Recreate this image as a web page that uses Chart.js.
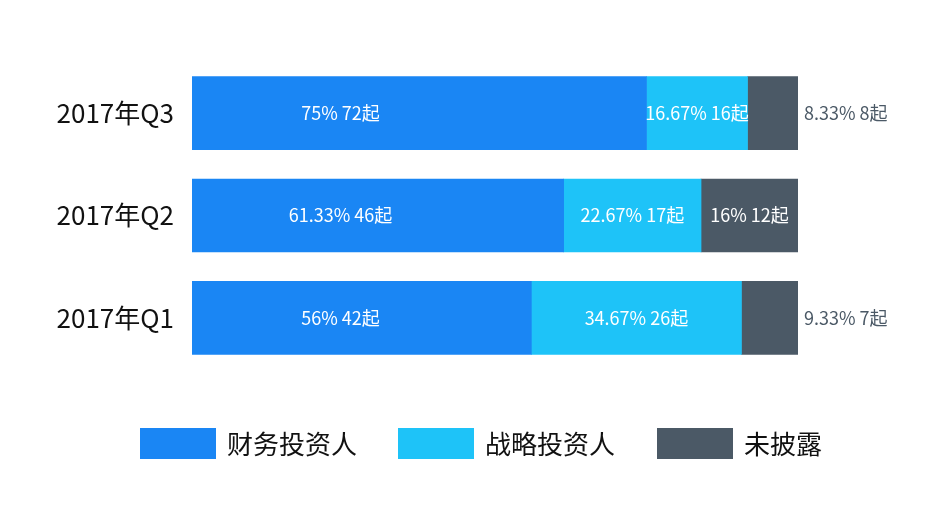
<!DOCTYPE html>
<html>
<head>
<meta charset="utf-8">
<script src="https://cdn.jsdelivr.net/npm/chart.js@4"></script>
<style>
html, body { margin: 0; padding: 0; background: #fff; }
#wrap { width: 936px; height: 517px; }
</style>
</head>
<body>
<div id="wrap"><canvas id="chart"></canvas></div>
<script>
const QUARTERS = ['2017年Q3', '2017年Q2', '2017年Q1'];
const SERIES = ['财务投资人', '战略投资人', '未披露'];
const PERCENTS = [
    [75, 61.33, 56],
    [16.67, 22.67, 34.67],
    [8.33, 16, 9.33]
];
const PERCENT_TEXT = [
    ['75%', '61.33%', '56%'],
    ['16.67%', '22.67%', '34.67%'],
    ['8.33%', '16%', '9.33%']
];
const COUNTS = [
    [72, 46, 42],
    [16, 17, 26],
    [8, 12, 7]
];
const COLORS = ['#1a86f4', '#1ec3f8', '#4b5966'];

const FONT = '"Noto Sans CJK SC", "Noto Sans", sans-serif';

// draws "xx% n起" on each segment
const segmentLabels = {
    id: 'segmentLabels',
    afterDatasetsDraw(chart) {
        const ctx = chart.ctx;
        const area = chart.chartArea;
        ctx.save();
        ctx.font = '18px ' + FONT;
        ctx.textBaseline = 'middle';
        chart.data.datasets.forEach((ds, di) => {
            chart.getDatasetMeta(di).data.forEach((bar, i) => {
                const text = PERCENT_TEXT[di][i] + ' ' + COUNTS[di][i] + '起';
                const w = bar.x - bar.base;
                let x, color = '#fff';
                ctx.textAlign = 'center';
                if (di === 0) {
                    x = area.left + (area.right - area.left) * 0.245;
                } else if (w < 80) {
                    x = area.right + 6;
                    ctx.textAlign = 'left';
                    color = '#4b5966';
                } else {
                    x = bar.base + w / 2;
                }
                ctx.fillStyle = color;
                ctx.fillText(text, x, bar.y);
            });
        });
        ctx.restore();
    }
};

// legend row under the bars
const bottomLegend = {
    id: 'bottomLegend',
    afterDraw(chart) {
        const ctx = chart.ctx;
        const starts = [140, 398, 657];
        ctx.save();
        ctx.font = '26px ' + FONT;
        ctx.textBaseline = 'middle';
        ctx.textAlign = 'left';
        SERIES.forEach((name, i) => {
            ctx.fillStyle = COLORS[i];
            ctx.fillRect(starts[i], 428, 76, 31);
            ctx.fillStyle = '#111';
            ctx.fillText(name, starts[i] + 87, 444);
        });
        ctx.restore();
    }
};

new Chart(document.getElementById('chart'), {
    type: 'bar',
    data: {
        labels: QUARTERS,
        datasets: SERIES.map((name, i) => ({
            label: name,
            data: PERCENTS[i],
            backgroundColor: COLORS[i],
            borderWidth: 0,
            barThickness: 73
        }))
    },
    options: {
        indexAxis: 'y',
        responsive: true,
        maintainAspectRatio: false,
        animation: false,
        layout: { padding: { left: 50, right: 138, top: 62, bottom: 148 } },
        scales: {
            x: { stacked: true, min: 0, max: 100, display: false },
            y: {
                stacked: true,
                afterFit(scale) { scale.width = 142; },
                grid: { display: false },
                border: { display: false },
                ticks: { color: '#111', font: { size: 26, family: FONT }, padding: 10 }
            }
        },
        plugins: {
            tooltip: { enabled: false },
            legend: { display: false }
        }
    },
    plugins: [segmentLabels, bottomLegend]
});
</script>
</body>
</html>
